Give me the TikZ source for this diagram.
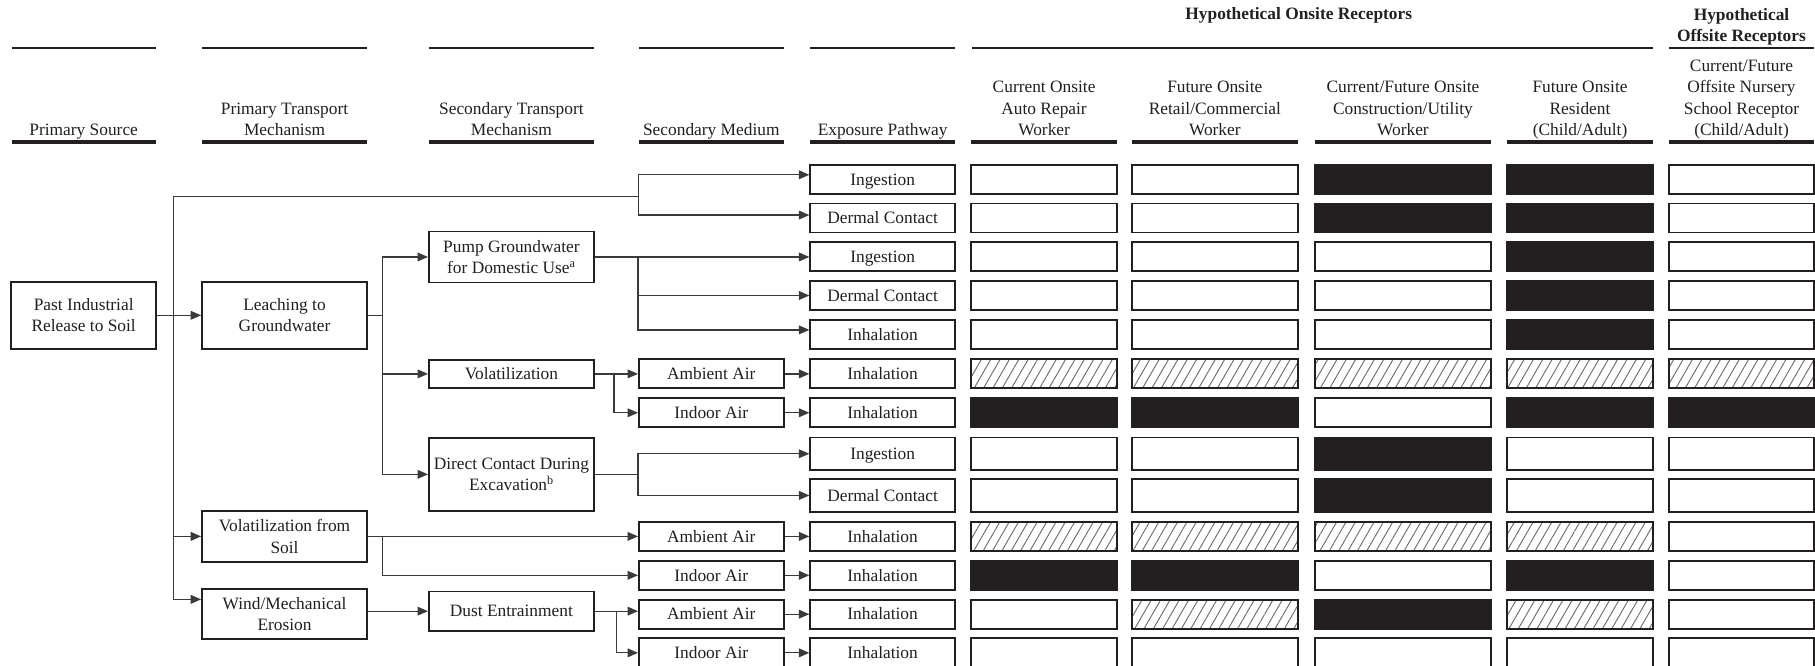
\documentclass[tikz,border=0pt]{standalone}
\usepackage{fontspec}
\setmainfont{Liberation Serif}
\usetikzlibrary{arrows.meta,patterns.meta}
\definecolor{ink}{HTML}{231F20}
\definecolor{wirecol}{HTML}{3A3A3A}
\tikzset{
  txt/.style={text=ink, font=\fontsize{15}{18.5}\selectfont},
  head/.style={txt, anchor=south, align=center, inner sep=0pt, text depth=3.5pt},
  headbf/.style={txt, align=center, inner sep=0pt, font=\fontsize{15}{18}\selectfont\bfseries},
  box/.style={txt, draw=ink, line width=1.6pt, inner sep=0pt, align=center},
  one/.style={text height=12pt, text depth=2pt},
  rec/.style={draw=ink, line width=1.6pt, inner sep=0pt, minimum width=#1},
  recw/.style={fill=white},
  recb/.style={fill=ink},
  rech/.style={pattern={Lines[angle=60,distance=7pt,line width=.8pt]}, pattern color=gray!85!black},
  link/.style={draw=wirecol, line width=1.1pt},
  arr/.style={link, -{Triangle[length=9pt,width=7.5pt]}}
}
\begin{document}
\begin{tikzpicture}[x=1pt,y=-1pt]
\fill[white] (0,0) rectangle (1568,575);
\useasboundingbox (0,0) rectangle (1568,575);
% Column headings
\foreach \a/\b in {10/135,174.5/317,370.6/513,552/677,700/825,840/1428,1442/1567}
  \draw[ink, line width=1.5pt] (\a,41.2) -- (\b,41.2);
\foreach \a/\b in {10/135,174.5/317,370.6/513,552/677,700/825,839/965,978/1121,1136/1288,1302/1428,1442/1567}
  \draw[ink, line width=3.6pt] (\a,123) -- (\b,123);
\node[headbf] (hon) at (1122,13) {Hypothetical Onsite Receptors};
\node[headbf] (hoff) at (1504.5,23.5) {Hypothetical\\Offsite Receptors};
\node[head] (hsrc) at (72.3,121) {Primary Source};
\node[head] (hpri) at (245.8,121) {Primary Transport\\Mechanism};
\node[head] (hsec) at (441.8,121) {Secondary Transport\\Mechanism};
\node[head] (hmed) at (614.5,121) {Secondary Medium};
\node[head] (hexp) at (762.5,121) {Exposure Pathway};
\node[head] (hr1) at (902,121) {Current Onsite\\Auto Repair\\Worker};
\node[head] (hr2) at (1049.5,121) {Future Onsite\\Retail/Commercial\\Worker};
\node[head] (hr3) at (1212,121) {Current/Future Onsite\\Construction/Utility\\Worker};
\node[head] (hr4) at (1365,121) {Future Onsite\\Resident\\(Child/Adult)};
\node[head] (hr5) at (1504.5,121) {Current/Future\\Offsite Nursery\\School Receptor\\(Child/Adult)};
% Sources and transport
\node[box, minimum width=125pt, minimum height=58pt] (src) at (72.3,272.4) {Past Industrial\\Release to Soil};
\node[box, minimum width=142.5pt, minimum height=58pt] (leach) at (245.8,272.4) {Leaching to\\Groundwater};
\node[box, minimum width=142.5pt, minimum height=44pt] (volsoil) at (245.8,463.4) {Volatilization from\\Soil};
\node[box, minimum width=142.5pt, minimum height=43.4pt] (wind) at (245.8,530.6) {Wind/Mechanical\\Erosion};
\node[box, minimum width=142.5pt, minimum height=44pt] (pump) at (441.8,222) {Pump Groundwater\\for Domestic Use\textsuperscript{a}};
\node[box, one, minimum width=142.5pt, minimum height=24.5pt] (volat) at (441.8,323) {Volatilization};
\node[box, minimum width=142.5pt, minimum height=63.5pt] (direct) at (441.8,409.8) {Direct Contact During\\Excavation\textsuperscript{b}};
\node[box, one, minimum width=142.5pt, minimum height=34pt] (dust) at (441.8,528) {Dust Entrainment};
% Secondary medium
\foreach \m/\y/\txt in {amb1/323/Ambient Air, ind1/356.6/Indoor Air, amb2/463.4/Ambient Air,
    ind2/497/Indoor Air, amb3/530.6/Ambient Air, ind3/564/Indoor Air}
  \node[box, one, minimum width=125pt, minimum height=25pt] (\m) at (614.5,\y) {\txt};
% Exposure pathways and receptors
\foreach \n/\y/\h/\txt/\ca/\cb/\cc/\cd/\ce in {
    1/155/25/Ingestion/recw/recw/recb/recb/recw,
    2/188.3/25/Dermal Contact/recw/recw/recb/recb/recw,
    3/221.7/25/Ingestion/recw/recw/recw/recb/recw,
    4/255.3/25/Dermal Contact/recw/recw/recw/recb/recw,
    5/289/25/Inhalation/recw/recw/recw/recb/recw,
    6/323/25/Inhalation/rech/rech/rech/rech/rech,
    7/356.6/25/Inhalation/recb/recb/recw/recb/recb,
    8/392/28/Ingestion/recw/recw/recb/recw/recw,
    9/428/28/Dermal Contact/recw/recw/recb/recw/recw,
    10/463.4/25/Inhalation/rech/rech/rech/rech/recw,
    11/497/25/Inhalation/recb/recb/recw/recb/recw,
    12/530.6/25/Inhalation/recw/rech/recb/rech/recw,
    13/564/25/Inhalation/recw/recw/recw/recw/recw}{
  \node[box, one, minimum width=125pt, minimum height=\h pt] (e\n) at (762.5,\y) {\txt};
  \node[rec=126pt, \ca, minimum height=\h pt] (r\n-1) at (902,\y) {};
  \node[rec=143pt, \cb, minimum height=\h pt] (r\n-2) at (1049.5,\y) {};
  \node[rec=152pt, \cc, minimum height=\h pt] (r\n-3) at (1212,\y) {};
  \node[rec=126pt, \cd, minimum height=\h pt] (r\n-4) at (1365,\y) {};
  \node[rec=125pt, \ce, minimum height=\h pt] (r\n-5) at (1504.5,\y) {};
}
% Trunk from the source
\coordinate (t1) at (149.6,170);
\coordinate (t2) at (551.5,170);
\coordinate (wa) at ([yshift=12.8pt]wind.west);
\draw[arr] (src) -- (leach);
\draw[link] (t1) -- (t1 |- wa);
\draw[arr] (t1 |- volsoil) -- (volsoil.west);
\draw[arr] (t1 |- wa) -- (wa);
\draw[arr] (t1) -- (t2) |- ([yshift=4pt]e1.west);
\draw[arr] (t2) |- ([yshift=2.5pt]e2.west);
% Groundwater branch
\coordinate (f1) at ([xshift=12.5pt]leach.east);
\draw[link] (leach.east) -- (f1);
\draw[arr] (f1) |- (pump.west);
\draw[arr] (f1) |- (volat.west);
\draw[arr] (f1) |- (direct.west);
\coordinate (f2) at (pump.east -| amb1.west);
\draw[arr] (pump.east) -- (pump.east -| e3.west);
\draw[arr] (f2) |- (e4.west);
\draw[arr] (f2) |- ([yshift=4pt]e5.west);
\coordinate (f3) at ([xshift=16.5pt]volat.east);
\draw[arr] (volat.east) -- (amb1.west);
\draw[arr] (f3) |- (ind1.west);
\coordinate (f4) at (direct.east -| amb1.west);
\draw[link] (direct.east) -- (f4);
\draw[arr] (f4) |- (e8.west);
\draw[arr] (f4) |- (e9.west);
% Soil branches
\coordinate (f5) at ([xshift=12.5pt]volsoil.east);
\draw[arr] (volsoil.east) -- (amb2.west);
\draw[arr] (f5) |- (ind2.west);
\draw[arr] (wind.east |- dust) -- (dust.west);
\coordinate (f6) at ([xshift=19pt]dust.east);
\draw[arr] (dust.east) -- (dust.east -| amb3.west);
\draw[arr] (f6) |- (ind3.west);
% Media to pathways
\foreach \m/\n in {amb1/6,ind1/7,amb2/10,ind2/11,amb3/12,ind3/13}
  \draw[arr] (\m.east) -- (e\n.west);
\end{tikzpicture}
\end{document}
